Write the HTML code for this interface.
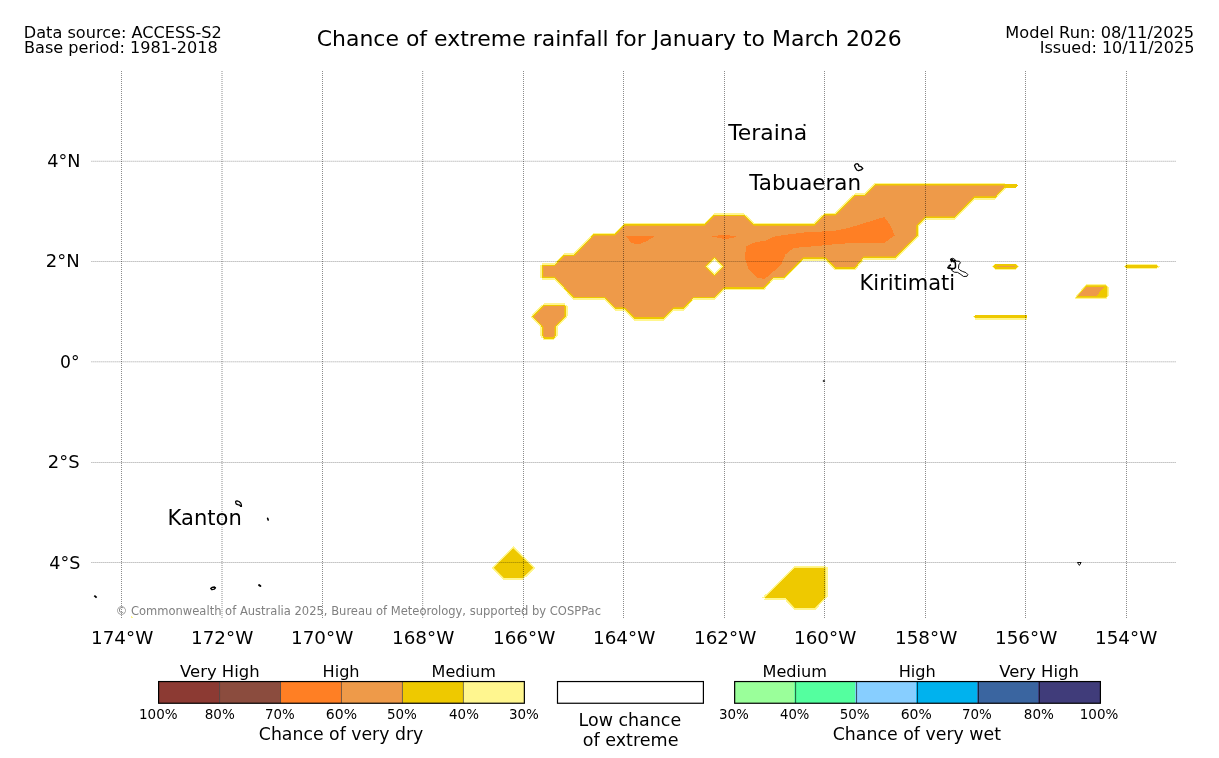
<!DOCTYPE html>
<html lang="en">
<head>
<meta charset="utf-8">
<title>Chance of extreme rainfall for January to March 2026</title>
<style>
html,body{margin:0;padding:0;background:#fff;}
body{width:1219px;height:758px;overflow:hidden;}
svg{display:block;}
text{font-family:"DejaVu Sans", "Liberation Sans", sans-serif;fill:#000;}
.gv{fill:none;stroke:#000;stroke-opacity:.45;stroke-width:1;stroke-dasharray:1 1;}
.gh{fill:none;stroke:#000;stroke-opacity:.09;stroke-width:1;stroke-dasharray:1 1;}
.isl{fill:none;stroke:#000;stroke-width:1;stroke-linejoin:round;}
</style>
</head>
<body>
<svg width="1219" height="758" viewBox="0 0 1219 758">
<rect x="0" y="0" width="1219" height="758" fill="#ffffff"/>

<text transform="translate(23.77,38.00) scale(0.9963,1)" font-size="16.2px">Data source: ACCESS-S2</text>
<text transform="translate(24.07,53.00) scale(0.9937,1)" font-size="16.2px">Base period: 1981-2018</text>
<text transform="translate(1005.36,38.00) scale(1.0004,1)" font-size="16.2px">Model Run: 08/11/2025</text>
<text transform="translate(1039.67,53.00) scale(0.9918,1)" font-size="16.2px">Issued: 10/11/2025</text>
<text transform="translate(316.72,46.00) scale(0.9990,1)" font-size="22px">Chance of extreme rainfall for January to March 2026</text>
<g id="contours" stroke-linejoin="miter" shape-rendering="crispEdges">
<path d="M544.2,265.0 L556.6,265.0 L566.4,254.9 L576.2,254.9 L595.9,234.5 L616.9,234.5 L626.7,224.6 L706.7,224.6 L716.5,214.8 L746.1,214.8 L755.9,224.6 L816.6,224.6 L826.4,214.5 L837.5,214.5 L857.1,194.8 L867.0,194.8 L877.3,184.5 L1007.6,184.5 L1007.3,187.0 L997.5,197.3 L976.5,197.3 L956.8,217.7 L927.3,217.7 L919.4,225.8 L919.4,236.1 L897.3,257.6 L865.8,257.6 L857.1,268.1 L837.5,268.1 L827.6,258.3 L805.5,258.3 L785.8,278.0 L775.6,278.0 L765.8,288.1 L726.4,288.1 L716.5,298.0 L695.6,298.0 L685.8,308.3 L675.9,308.3 L666.1,318.2 L636.5,318.2 L626.7,308.3 L616.9,308.3 L607.0,298.0 L576.2,298.0 L556.6,277.8 L544.2,277.8 Z M716.5,257.9 L725.1,266.5 L716.5,275.1 L707.9,266.5 Z" fill="#FFF68F" fill-rule="evenodd"/>
<path d="M540.0,265.0 L552.4,265.0 L562.2,254.9 L572.0,254.9 L591.7,234.5 L612.7,234.5 L622.5,224.6 L702.5,224.6 L712.3,214.8 L741.9,214.8 L751.7,224.6 L812.4,224.6 L822.2,214.5 L833.3,214.5 L852.9,194.8 L862.8,194.8 L873.1,184.5 L1003.4,184.5 L1003.1,187.0 L993.3,197.3 L972.3,197.3 L952.6,217.7 L923.1,217.7 L915.2,225.8 L915.2,236.1 L893.1,257.6 L861.6,257.6 L852.9,268.1 L833.3,268.1 L823.4,258.3 L801.3,258.3 L781.6,278.0 L771.4,278.0 L761.6,288.1 L722.2,288.1 L712.3,298.0 L691.4,298.0 L681.6,308.3 L671.7,308.3 L661.9,318.2 L632.3,318.2 L622.5,308.3 L612.7,308.3 L602.8,298.0 L572.0,298.0 L552.4,277.8 L540.0,277.8 Z M712.3,257.9 L720.9,266.5 L712.3,275.1 L703.7,266.5 Z" fill="#FFF68F" fill-rule="evenodd"/>
<path d="M542.1,267.3 L554.5,267.3 L564.3,257.2 L574.1,257.2 L593.8,236.8 L614.8,236.8 L624.6,226.9 L704.6,226.9 L714.4,217.1 L744.0,217.1 L753.8,226.9 L814.5,226.9 L824.3,216.8 L835.4,216.8 L855.0,197.1 L864.9,197.1 L875.2,186.8 L1005.5,186.8 L1005.2,189.3 L995.4,199.6 L974.4,199.6 L954.7,220.0 L925.2,220.0 L917.3,228.1 L917.3,238.4 L895.2,259.9 L863.7,259.9 L855.0,270.4 L835.4,270.4 L825.5,260.6 L803.4,260.6 L783.7,280.3 L773.5,280.3 L763.7,290.4 L724.3,290.4 L714.4,300.3 L693.5,300.3 L683.7,310.6 L673.8,310.6 L664.0,320.5 L634.4,320.5 L624.6,310.6 L614.8,310.6 L604.9,300.3 L574.1,300.3 L554.5,280.1 L542.1,280.1 Z M714.4,260.2 L723.0,268.8 L714.4,277.4 L705.8,268.8 Z" fill="#FFF68F" fill-rule="evenodd"/>
<path d="M542.1,263.3 L554.5,263.3 L564.3,253.2 L574.1,253.2 L593.8,232.8 L614.8,232.8 L624.6,222.9 L704.6,222.9 L714.4,213.1 L744.0,213.1 L753.8,222.9 L814.5,222.9 L824.3,212.8 L835.4,212.8 L855.0,193.1 L864.9,193.1 L875.2,182.8 L1005.5,182.8 L1005.2,185.3 L995.4,195.6 L974.4,195.6 L954.7,216.0 L925.2,216.0 L917.3,224.1 L917.3,234.4 L895.2,255.9 L863.7,255.9 L855.0,266.4 L835.4,266.4 L825.5,256.6 L803.4,256.6 L783.7,276.3 L773.5,276.3 L763.7,286.4 L724.3,286.4 L714.4,296.3 L693.5,296.3 L683.7,306.6 L673.8,306.6 L664.0,316.5 L634.4,316.5 L624.6,306.6 L614.8,306.6 L604.9,296.3 L574.1,296.3 L554.5,276.1 L542.1,276.1 Z M714.4,256.2 L723.0,264.8 L714.4,273.4 L705.8,264.8 Z" fill="#FFF68F" fill-rule="evenodd"/>
<path d="M542.5,265.0 L554.9,265.0 L564.6,254.9 L574.5,254.9 L594.1,234.5 L615.1,234.5 L625.0,224.6 L705.0,224.6 L714.8,214.8 L744.4,214.8 L754.1,224.6 L814.9,224.6 L824.6,214.5 L835.8,214.5 L855.4,194.8 L865.2,194.8 L875.6,184.5 L1005.9,184.5 L1005.6,187.0 L995.8,197.3 L974.8,197.3 L955.1,217.7 L925.6,217.7 L917.6,225.8 L917.6,236.1 L895.6,257.6 L864.1,257.6 L855.4,268.1 L835.8,268.1 L825.9,258.3 L803.8,258.3 L784.1,278.0 L773.9,278.0 L764.1,288.1 L724.6,288.1 L714.8,298.0 L693.9,298.0 L684.1,308.3 L674.1,308.3 L664.4,318.2 L634.8,318.2 L625.0,308.3 L615.1,308.3 L605.2,298.0 L574.5,298.0 L554.9,277.8 L542.5,277.8 Z M714.8,257.9 L723.4,266.5 L714.8,275.1 L706.1,266.5 Z" fill="#EEC900" fill-rule="evenodd"/>
<path d="M541.8,265.0 L554.1,265.0 L563.9,254.9 L573.8,254.9 L593.4,234.5 L614.4,234.5 L624.2,224.6 L704.2,224.6 L714.0,214.8 L743.6,214.8 L753.4,224.6 L814.1,224.6 L823.9,214.5 L835.0,214.5 L854.6,194.8 L864.5,194.8 L874.9,184.5 L1005.1,184.5 L1004.9,187.0 L995.0,197.3 L974.0,197.3 L954.4,217.7 L924.9,217.7 L916.9,225.8 L916.9,236.1 L894.9,257.6 L863.4,257.6 L854.6,268.1 L835.0,268.1 L825.1,258.3 L803.0,258.3 L783.4,278.0 L773.1,278.0 L763.4,288.1 L723.9,288.1 L714.0,298.0 L693.1,298.0 L683.4,308.3 L673.4,308.3 L663.6,318.2 L634.0,318.2 L624.2,308.3 L614.4,308.3 L604.5,298.0 L573.8,298.0 L554.1,277.8 L541.8,277.8 Z M714.0,257.9 L722.6,266.5 L714.0,275.1 L705.4,266.5 Z" fill="#EEC900" fill-rule="evenodd"/>
<path d="M542.1,265.4 L554.5,265.4 L564.3,255.2 L574.1,255.2 L593.8,234.8 L614.8,234.8 L624.6,224.9 L704.6,224.9 L714.4,215.2 L744.0,215.2 L753.8,224.9 L814.5,224.9 L824.3,214.8 L835.4,214.8 L855.0,195.2 L864.9,195.2 L875.2,184.8 L1005.5,184.8 L1005.2,187.3 L995.4,197.7 L974.4,197.7 L954.7,218.0 L925.2,218.0 L917.3,226.2 L917.3,236.4 L895.2,258.0 L863.7,258.0 L855.0,268.5 L835.4,268.5 L825.5,258.7 L803.4,258.7 L783.7,278.4 L773.5,278.4 L763.7,288.5 L724.3,288.5 L714.4,298.4 L693.5,298.4 L683.7,308.7 L673.8,308.7 L664.0,318.6 L634.4,318.6 L624.6,308.7 L614.8,308.7 L604.9,298.4 L574.1,298.4 L554.5,278.2 L542.1,278.2 Z M714.4,258.2 L723.0,266.9 L714.4,275.5 L705.8,266.9 Z" fill="#EEC900" fill-rule="evenodd"/>
<path d="M542.1,264.6 L554.5,264.6 L564.3,254.6 L574.1,254.6 L593.8,234.2 L614.8,234.2 L624.6,224.2 L704.6,224.2 L714.4,214.5 L744.0,214.5 L753.8,224.2 L814.5,224.2 L824.3,214.2 L835.4,214.2 L855.0,194.5 L864.9,194.5 L875.2,184.2 L1005.5,184.2 L1005.2,186.7 L995.4,197.0 L974.4,197.0 L954.7,217.3 L925.2,217.3 L917.3,225.5 L917.3,235.8 L895.2,257.2 L863.7,257.2 L855.0,267.8 L835.4,267.8 L825.5,257.9 L803.4,257.9 L783.7,277.6 L773.5,277.6 L763.7,287.8 L724.3,287.8 L714.4,297.6 L693.5,297.6 L683.7,307.9 L673.8,307.9 L664.0,317.8 L634.4,317.8 L624.6,307.9 L614.8,307.9 L604.9,297.6 L574.1,297.6 L554.5,277.4 L542.1,277.4 Z M714.4,257.5 L723.0,266.1 L714.4,274.8 L705.8,266.1 Z" fill="#EEC900" fill-rule="evenodd"/>
<clipPath id="c1" shape-rendering="crispEdges"><path d="M543.2,265.0 L555.6,265.0 L565.4,254.9 L575.2,254.9 L594.9,234.5 L615.9,234.5 L625.7,224.6 L705.7,224.6 L715.5,214.8 L745.1,214.8 L754.9,224.6 L815.6,224.6 L825.4,214.5 L836.5,214.5 L856.1,194.8 L866.0,194.8 L876.3,184.5 L1006.6,184.5 L1006.3,187.0 L996.5,197.3 L975.5,197.3 L955.8,217.7 L926.3,217.7 L918.4,225.8 L918.4,236.1 L896.3,257.6 L864.8,257.6 L856.1,268.1 L836.5,268.1 L826.6,258.3 L804.5,258.3 L784.8,278.0 L774.6,278.0 L764.8,288.1 L725.4,288.1 L715.5,298.0 L694.6,298.0 L684.8,308.3 L674.9,308.3 L665.1,318.2 L635.5,318.2 L625.7,308.3 L615.9,308.3 L606.0,298.0 L575.2,298.0 L555.6,277.8 L543.2,277.8 Z M715.5,257.9 L724.1,266.5 L715.5,275.1 L706.9,266.5 Z" clip-rule="evenodd" shape-rendering="crispEdges"/></clipPath>
<clipPath id="c2" shape-rendering="crispEdges"><path d="M541.0,265.0 L553.4,265.0 L563.2,254.9 L573.0,254.9 L592.7,234.5 L613.7,234.5 L623.5,224.6 L703.5,224.6 L713.3,214.8 L742.9,214.8 L752.7,224.6 L813.4,224.6 L823.2,214.5 L834.3,214.5 L853.9,194.8 L863.8,194.8 L874.1,184.5 L1004.4,184.5 L1004.1,187.0 L994.3,197.3 L973.3,197.3 L953.6,217.7 L924.1,217.7 L916.2,225.8 L916.2,236.1 L894.1,257.6 L862.6,257.6 L853.9,268.1 L834.3,268.1 L824.4,258.3 L802.3,258.3 L782.6,278.0 L772.4,278.0 L762.6,288.1 L723.2,288.1 L713.3,298.0 L692.4,298.0 L682.6,308.3 L672.7,308.3 L662.9,318.2 L633.3,318.2 L623.5,308.3 L613.7,308.3 L603.8,298.0 L573.0,298.0 L553.4,277.8 L541.0,277.8 Z M713.3,257.9 L721.9,266.5 L713.3,275.1 L704.7,266.5 Z" clip-rule="evenodd" shape-rendering="crispEdges"/></clipPath>
<clipPath id="c3" shape-rendering="crispEdges"><path d="M542.1,266.1 L554.5,266.1 L564.3,256.0 L574.1,256.0 L593.8,235.6 L614.8,235.6 L624.6,225.7 L704.6,225.7 L714.4,215.9 L744.0,215.9 L753.8,225.7 L814.5,225.7 L824.3,215.6 L835.4,215.6 L855.0,195.9 L864.9,195.9 L875.2,185.6 L1005.5,185.6 L1005.2,188.1 L995.4,198.4 L974.4,198.4 L954.7,218.8 L925.2,218.8 L917.3,226.9 L917.3,237.2 L895.2,258.7 L863.7,258.7 L855.0,269.2 L835.4,269.2 L825.5,259.4 L803.4,259.4 L783.7,279.1 L773.5,279.1 L763.7,289.2 L724.3,289.2 L714.4,299.1 L693.5,299.1 L683.7,309.4 L673.8,309.4 L664.0,319.3 L634.4,319.3 L624.6,309.4 L614.8,309.4 L604.9,299.1 L574.1,299.1 L554.5,278.9 L542.1,278.9 Z M714.4,259.0 L723.0,267.6 L714.4,276.2 L705.8,267.6 Z" clip-rule="evenodd" shape-rendering="crispEdges"/></clipPath>
<clipPath id="c4" shape-rendering="crispEdges"><path d="M542.1,263.9 L554.5,263.9 L564.3,253.8 L574.1,253.8 L593.8,233.4 L614.8,233.4 L624.6,223.5 L704.6,223.5 L714.4,213.7 L744.0,213.7 L753.8,223.5 L814.5,223.5 L824.3,213.4 L835.4,213.4 L855.0,193.7 L864.9,193.7 L875.2,183.4 L1005.5,183.4 L1005.2,185.9 L995.4,196.2 L974.4,196.2 L954.7,216.6 L925.2,216.6 L917.3,224.7 L917.3,235.0 L895.2,256.5 L863.7,256.5 L855.0,267.0 L835.4,267.0 L825.5,257.2 L803.4,257.2 L783.7,276.9 L773.5,276.9 L763.7,287.0 L724.3,287.0 L714.4,296.9 L693.5,296.9 L683.7,307.2 L673.8,307.2 L664.0,317.1 L634.4,317.1 L624.6,307.2 L614.8,307.2 L604.9,296.9 L574.1,296.9 L554.5,276.7 L542.1,276.7 Z M714.4,256.8 L723.0,265.4 L714.4,274.0 L705.8,265.4 Z" clip-rule="evenodd" shape-rendering="crispEdges"/></clipPath>
<g clip-path="url(#c1)"><g clip-path="url(#c2)"><g clip-path="url(#c3)"><g clip-path="url(#c4)"><rect x="540.1" y="182.5" width="467.4" height="137.7" fill="#EE9A49"/></g></g></g></g>
<path d="M1004.8,183.8 L1015.8,183.8 L1017.8,185.8 L1015.8,188.2 L1003,188.2 L1004.8,186.2 Z" fill="#EEC900"/>
<path d="M534.4,316.9 L546.0,304.9 L566.4,304.9 L567.6,306.6 L567.6,316.4 L557.8,326.8 L557.8,335.4 L555.8,338.1 L546.0,338.1 L544.3,335.4 L544.3,326.8 Z" fill="#FFF68F" fill-rule="evenodd"/>
<path d="M530.2,316.9 L541.8,304.9 L562.2,304.9 L563.4,306.6 L563.4,316.4 L553.6,326.8 L553.6,335.4 L551.6,338.1 L541.8,338.1 L540.1,335.4 L540.1,326.8 Z" fill="#FFF68F" fill-rule="evenodd"/>
<path d="M532.3,319.2 L543.9,307.2 L564.3,307.2 L565.5,308.9 L565.5,318.7 L555.7,329.1 L555.7,337.7 L553.7,340.4 L543.9,340.4 L542.2,337.7 L542.2,329.1 Z" fill="#FFF68F" fill-rule="evenodd"/>
<path d="M532.3,315.2 L543.9,303.2 L564.3,303.2 L565.5,304.9 L565.5,314.7 L555.7,325.1 L555.7,333.7 L553.7,336.4 L543.9,336.4 L542.2,333.7 L542.2,325.1 Z" fill="#FFF68F" fill-rule="evenodd"/>
<path d="M532.6,316.9 L544.2,304.9 L564.6,304.9 L565.9,306.6 L565.9,316.4 L556.1,326.8 L556.1,335.4 L554.1,338.1 L544.2,338.1 L542.6,335.4 L542.6,326.8 Z" fill="#EEC900" fill-rule="evenodd"/>
<path d="M531.9,316.9 L543.5,304.9 L563.9,304.9 L565.1,306.6 L565.1,316.4 L555.4,326.8 L555.4,335.4 L553.4,338.1 L543.5,338.1 L541.9,335.4 L541.9,326.8 Z" fill="#EEC900" fill-rule="evenodd"/>
<path d="M532.3,317.2 L543.9,305.2 L564.3,305.2 L565.5,307.0 L565.5,316.8 L555.7,327.2 L555.7,335.8 L553.7,338.5 L543.9,338.5 L542.2,335.8 L542.2,327.2 Z" fill="#EEC900" fill-rule="evenodd"/>
<path d="M532.3,316.5 L543.9,304.5 L564.3,304.5 L565.5,306.2 L565.5,316.0 L555.7,326.4 L555.7,335.0 L553.7,337.8 L543.9,337.8 L542.2,335.0 L542.2,326.4 Z" fill="#EEC900" fill-rule="evenodd"/>
<clipPath id="c5" shape-rendering="crispEdges"><path d="M533.4,316.9 L545.0,304.9 L565.4,304.9 L566.6,306.6 L566.6,316.4 L556.8,326.8 L556.8,335.4 L554.8,338.1 L545.0,338.1 L543.3,335.4 L543.3,326.8 Z" clip-rule="evenodd" shape-rendering="crispEdges"/></clipPath>
<clipPath id="c6" shape-rendering="crispEdges"><path d="M531.2,316.9 L542.8,304.9 L563.2,304.9 L564.4,306.6 L564.4,316.4 L554.6,326.8 L554.6,335.4 L552.6,338.1 L542.8,338.1 L541.1,335.4 L541.1,326.8 Z" clip-rule="evenodd" shape-rendering="crispEdges"/></clipPath>
<clipPath id="c7" shape-rendering="crispEdges"><path d="M532.3,318.0 L543.9,306.0 L564.3,306.0 L565.5,307.7 L565.5,317.5 L555.7,327.9 L555.7,336.5 L553.7,339.2 L543.9,339.2 L542.2,336.5 L542.2,327.9 Z" clip-rule="evenodd" shape-rendering="crispEdges"/></clipPath>
<clipPath id="c8" shape-rendering="crispEdges"><path d="M532.3,315.8 L543.9,303.8 L564.3,303.8 L565.5,305.5 L565.5,315.3 L555.7,325.7 L555.7,334.3 L553.7,337.0 L543.9,337.0 L542.2,334.3 L542.2,325.7 Z" clip-rule="evenodd" shape-rendering="crispEdges"/></clipPath>
<g clip-path="url(#c5)"><g clip-path="url(#c6)"><g clip-path="url(#c7)"><g clip-path="url(#c8)"><rect x="530.3" y="302.9" width="37.2" height="37.2" fill="#EE9A49"/></g></g></g></g>
<path d="M746.2,246.5 L752.9,242.8 L765.4,240.6 L774.3,236.6 L789.1,234.3 L806.8,232.2 L833.4,231.0 L848.1,228.1 L884.3,217.0 L890.2,225.1 L894.7,235.4 L885.1,242.5 L840.8,243.6 L818.6,245.8 L793.5,248.0 L785.4,254.6 L780.9,265.0 L764.7,279.0 L756.6,277.5 L748.5,269.4 L744.8,257.6 Z" fill="#FF7F24"/>
<path d="M625.8,236.0 L654.9,236.0 L647.0,241.0 L638.0,244.6 L631.0,242.5 Z" fill="#FF7F24"/>
<path d="M712.0,236.5 L724.0,234.5 L737.8,236.8 L726.0,239.2 Z" fill="#FF7F24"/>
<path d="M514.7,547.6 L535.5,567.8 L524.3,578.6 L505.1,578.6 L494.5,567.8 Z" fill="#FFF68F"/>
<path d="M511.7,547.6 L532.5,567.8 L521.3,578.6 L502.1,578.6 L491.5,567.8 Z" fill="#FFF68F"/>
<path d="M513.2,549.1 L534.0,569.3 L522.8,580.1 L503.6,580.1 L493.0,569.3 Z" fill="#FFF68F"/>
<path d="M513.2,546.1 L534.0,566.3 L522.8,577.1 L503.6,577.1 L493.0,566.3 Z" fill="#FFF68F"/>
<clipPath id="c9" shape-rendering="crispEdges"><path d="M513.7,547.6 L534.5,567.8 L523.3,578.6 L504.1,578.6 L493.5,567.8 Z" shape-rendering="crispEdges"/></clipPath>
<clipPath id="c10" shape-rendering="crispEdges"><path d="M512.7,547.6 L533.5,567.8 L522.3,578.6 L503.1,578.6 L492.5,567.8 Z" shape-rendering="crispEdges"/></clipPath>
<clipPath id="c11" shape-rendering="crispEdges"><path d="M513.2,548.1 L534.0,568.3 L522.8,579.1 L503.6,579.1 L493.0,568.3 Z" shape-rendering="crispEdges"/></clipPath>
<clipPath id="c12" shape-rendering="crispEdges"><path d="M513.2,547.1 L534.0,567.3 L522.8,578.1 L503.6,578.1 L493.0,567.3 Z" shape-rendering="crispEdges"/></clipPath>
<g clip-path="url(#c9)"><g clip-path="url(#c10)"><g clip-path="url(#c11)"><g clip-path="url(#c12)"><rect x="491.0" y="545.6" width="45.0" height="35.0" fill="#EEC900"/></g></g></g></g>
<path d="M765.5,598.1 L796.5,567.4 L827.6,567.4 L827.6,597.2 L816.7,608.4 L796.5,608.4 L786.9,598.1 Z" fill="#FFF68F"/>
<path d="M761.9,598.1 L792.9,567.4 L824.0,567.4 L824.0,597.2 L813.1,608.4 L792.9,608.4 L783.3,598.1 Z" fill="#FFF68F"/>
<path d="M763.7,599.9 L794.7,569.2 L825.8,569.2 L825.8,599.0 L814.9,610.2 L794.7,610.2 L785.1,599.9 Z" fill="#FFF68F"/>
<path d="M763.7,596.3 L794.7,565.6 L825.8,565.6 L825.8,595.4 L814.9,606.6 L794.7,606.6 L785.1,596.3 Z" fill="#FFF68F"/>
<clipPath id="c13" shape-rendering="crispEdges"><path d="M763.8,598.1 L794.8,567.4 L825.9,567.4 L825.9,597.2 L815.0,608.4 L794.8,608.4 L785.2,598.1 Z" shape-rendering="crispEdges"/></clipPath>
<clipPath id="c14" shape-rendering="crispEdges"><path d="M763.6,598.1 L794.6,567.4 L825.7,567.4 L825.7,597.2 L814.8,608.4 L794.6,608.4 L785.0,598.1 Z" shape-rendering="crispEdges"/></clipPath>
<clipPath id="c15" shape-rendering="crispEdges"><path d="M763.7,598.2 L794.7,567.5 L825.8,567.5 L825.8,597.3 L814.9,608.5 L794.7,608.5 L785.1,598.2 Z" shape-rendering="crispEdges"/></clipPath>
<clipPath id="c16" shape-rendering="crispEdges"><path d="M763.7,598.0 L794.7,567.3 L825.8,567.3 L825.8,597.1 L814.9,608.3 L794.7,608.3 L785.1,598.0 Z" shape-rendering="crispEdges"/></clipPath>
<g clip-path="url(#c13)"><g clip-path="url(#c14)"><g clip-path="url(#c15)"><g clip-path="url(#c16)"><rect x="761.7" y="565.4" width="66.1" height="45.0" fill="#EEC900"/></g></g></g></g>
<path d="M1075.8,298.1 L1086.8,285.0 L1107.0,285.0 L1108.6,287.0 L1108.6,296.2 L1107.0,298.1 Z" fill="#FFF68F"/>
<path d="M1074.2,298.1 L1085.2,285.0 L1105.4,285.0 L1107.0,287.0 L1107.0,296.2 L1105.4,298.1 Z" fill="#FFF68F"/>
<path d="M1075.0,298.9 L1086.0,285.8 L1106.2,285.8 L1107.8,287.8 L1107.8,297.0 L1106.2,298.9 Z" fill="#FFF68F"/>
<path d="M1075.0,297.3 L1086.0,284.2 L1106.2,284.2 L1107.8,286.2 L1107.8,295.4 L1106.2,297.3 Z" fill="#FFF68F"/>
<clipPath id="c17" shape-rendering="crispEdges"><path d="M1075.3,298.1 L1086.3,285.0 L1106.5,285.0 L1108.1,287.0 L1108.1,296.2 L1106.5,298.1 Z" shape-rendering="crispEdges"/></clipPath>
<clipPath id="c18" shape-rendering="crispEdges"><path d="M1074.7,298.1 L1085.7,285.0 L1105.9,285.0 L1107.5,287.0 L1107.5,296.2 L1105.9,298.1 Z" shape-rendering="crispEdges"/></clipPath>
<clipPath id="c19" shape-rendering="crispEdges"><path d="M1075.0,298.4 L1086.0,285.3 L1106.2,285.3 L1107.8,287.3 L1107.8,296.5 L1106.2,298.4 Z" shape-rendering="crispEdges"/></clipPath>
<clipPath id="c20" shape-rendering="crispEdges"><path d="M1075.0,297.8 L1086.0,284.7 L1106.2,284.7 L1107.8,286.7 L1107.8,295.9 L1106.2,297.8 Z" shape-rendering="crispEdges"/></clipPath>
<g clip-path="url(#c17)"><g clip-path="url(#c18)"><g clip-path="url(#c19)"><g clip-path="url(#c20)"><rect x="1073.0" y="283.0" width="36.8" height="17.1" fill="#EEC900"/></g></g></g></g>
<path d="M1078.2,295.8 L1086.7,287.0 L1104.8,287.0 L1096.3,295.8 Z" fill="#EE9A49"/>
<path d="M993.4,266.6 L995.6,264.4 L1015.6,264.4 L1017.8,266.6 L1015.6,268.9 L995.6,268.9 Z" fill="#EEC900" stroke="#FFF68F" stroke-width="1.8" paint-order="stroke"/>
<path d="M996.5,265.9 L1014.5,265.9 L1014.5,267.4 L996.5,267.4 Z" fill="#EE9A49"/>
<path d="M1125.2,266.6 L1127,264.9 L1156.4,264.9 L1158.4,266.6 L1156.4,268.4 L1127,268.4 Z" fill="#EEC900" stroke="#FFF68F" stroke-width="1.6" paint-order="stroke"/>
<path d="M973.4,316.6 L975.6,314.6 L1027.2,314.6 L1027.2,319.9 L975.6,319.9 Z" fill="#FFF68F"/>
<path d="M974.4,316.6 L975.9,315.0 L1026.9,315.0 L1026.9,318.3 L975.9,318.3 Z" fill="#EEC900"/>
<path d="M130.2,618 L131.6,616.2 L133,618 Z" fill="#FFF68F"/>
</g>
<g class="gv">
<line x1="121.50" y1="71" x2="121.50" y2="618"/>
<line x1="222.00" y1="71" x2="222.00" y2="618"/>
<line x1="322.50" y1="71" x2="322.50" y2="618"/>
<line x1="422.70" y1="71" x2="422.70" y2="618"/>
<line x1="523.50" y1="71" x2="523.50" y2="618"/>
<line x1="623.50" y1="71" x2="623.50" y2="618"/>
<line x1="724.50" y1="71" x2="724.50" y2="618"/>
<line x1="824.50" y1="71" x2="824.50" y2="618"/>
<line x1="925.50" y1="71" x2="925.50" y2="618"/>
<line x1="1025.50" y1="71" x2="1025.50" y2="618"/>
<line x1="1126.50" y1="71" x2="1126.50" y2="618"/>
</g>
<g class="gh">
<line x1="91" y1="161.25" x2="1176" y2="161.25"/>
<line x1="91" y1="161.25" x2="1176" y2="161.25" style="stroke-dasharray:none;stroke-opacity:.15"/>
<line x1="91" y1="261.50" x2="1176" y2="261.50"/>
<line x1="91" y1="261.50" x2="1176" y2="261.50" style="stroke-dasharray:none;stroke-opacity:.15"/>
<line x1="91" y1="361.80" x2="1176" y2="361.80"/>
<line x1="91" y1="361.80" x2="1176" y2="361.80" style="stroke-dasharray:none;stroke-opacity:.15"/>
<line x1="91" y1="462.50" x2="1176" y2="462.50"/>
<line x1="91" y1="462.50" x2="1176" y2="462.50" style="stroke-dasharray:none;stroke-opacity:.15"/>
<line x1="91" y1="562.50" x2="1176" y2="562.50"/>
<line x1="91" y1="562.50" x2="1176" y2="562.50" style="stroke-dasharray:none;stroke-opacity:.15"/>
</g>
<g class="isl">
<path d="M854.5,165.6 L855.5,164.1 L857.3,163.7 L858.6,164.6 L858.8,166.1 L861.1,166.6 L862.8,168.5 L861.1,169.9 L858.5,170.7 L856.8,170 L855.5,167.9 Z" stroke-width="1.3"/>
<path d="M950.5,258.8 L952.5,258.3 L954.4,259 L956,261.1 L959.5,261.3 L960.4,262.9 L958.8,264.8 L958.5,268.5 L959.9,270.1 L962.7,271.5 L965.9,272.6 L967.8,274.5 L966.9,276.3 L963.6,276.5 L960.9,274.5 L957.6,272.4 L954.4,272.2 L952.1,270.8 L951.2,268.9 L947.5,268 L948.4,266.2 L950.7,264.5" stroke-width="0.95"/>
<path d="M950.6,259 L951.4,261.6 L952.4,259.4 L953.4,261.6 L954.6,260.6 L955.4,263.5 L955.5,267 L954.6,268.4 L951,268.3 L947.8,267.8 M950.8,264.6 L948.6,266.6 M952,268.6 L952.6,270" stroke-width="1.5"/>
<path d="M235.7,501.4 L237,500.8 L239,501.5 L240.7,502.9 L241.3,504.6 L241.5,506.4 L240.6,506.3 L239.7,505.1 L237.9,504.7 L236.4,504.1 L235.7,502.7 Z" stroke-width="1.25"/>
<path d="M267.6,518.2 L268.2,520" stroke-width="1.6" stroke-linecap="round"/>
<path d="M803.6,124.6 L805.5,125.5" stroke-width="1.7"/>
<path d="M823,380.4 L824.7,380.4 L824.7,381.6 L823,381.6 Z" fill="#000" stroke-width="0.4"/>
<path d="M1077.4,562.5 L1081.1,562.5 L1079.4,565.4 Z" stroke-width="0.95"/>
<path d="M94.3,595.6 L96.6,597.6" stroke-width="1.9"/>
<path d="M210.7,588.6 L212,587.4 L214.4,587 L215.5,587.8 L214.2,589.2 L212,589.7 Z" stroke-width="1.35"/>
<path d="M259.1,585.1 L260.4,586" stroke-width="2" stroke-linecap="round"/>
</g>
<text transform="translate(728.15,140.00) scale(1.0287,1)" font-size="21.3px">Teraina</text>
<text transform="translate(749.27,190.00) scale(1.0073,1)" font-size="21.3px">Tabuaeran</text>
<text transform="translate(859.59,290.00) scale(0.9869,1)" font-size="21.3px">Kiritimati</text>
<text transform="translate(167.56,525.00) scale(0.9892,1)" font-size="21.3px">Kanton</text>
<text transform="translate(115.76,615.00) scale(0.9457,1)" font-size="12.2px" style="fill:#808080">© Commonwealth of Australia 2025, Bureau of Meteorology, supported by COSPPac</text>
<text transform="translate(47.29,167.00) scale(1.0031,1)" font-size="17.6px">4°N</text>
<text transform="translate(45.80,267.00) scale(1.0243,1)" font-size="17.6px">2°N</text>
<text transform="translate(60.12,368.00) scale(0.9760,1)" font-size="17.6px">0°</text>
<text transform="translate(47.84,468.00) scale(1.0193,1)" font-size="17.6px">2°S</text>
<text transform="translate(49.34,569.00) scale(0.9973,1)" font-size="17.6px">4°S</text>
<text transform="translate(91.00,644.00) scale(1.0427,1)" font-size="17.6px">174°W</text>
<text transform="translate(191.00,644.00) scale(1.0427,1)" font-size="17.6px">172°W</text>
<text transform="translate(291.00,644.00) scale(1.0427,1)" font-size="17.6px">170°W</text>
<text transform="translate(392.00,644.00) scale(1.0427,1)" font-size="17.6px">168°W</text>
<text transform="translate(493.00,644.00) scale(1.0427,1)" font-size="17.6px">166°W</text>
<text transform="translate(593.00,644.00) scale(1.0427,1)" font-size="17.6px">164°W</text>
<text transform="translate(694.00,644.00) scale(1.0427,1)" font-size="17.6px">162°W</text>
<text transform="translate(794.00,644.00) scale(1.0427,1)" font-size="17.6px">160°W</text>
<text transform="translate(895.00,644.00) scale(1.0427,1)" font-size="17.6px">158°W</text>
<text transform="translate(995.00,644.00) scale(1.0427,1)" font-size="17.6px">156°W</text>
<text transform="translate(1095.00,644.00) scale(1.0427,1)" font-size="17.6px">154°W</text>
<rect x="158.60" y="681.55" width="60.96" height="21.70" fill="#8C3A33"/>
<rect x="219.91" y="681.55" width="60.61" height="21.70" fill="#8B4C3E"/>
<rect x="280.87" y="681.55" width="60.61" height="21.70" fill="#FF7F24"/>
<rect x="341.83" y="681.55" width="60.61" height="21.70" fill="#EE9A49"/>
<rect x="402.79" y="681.55" width="60.61" height="21.70" fill="#EEC900"/>
<rect x="463.75" y="681.55" width="60.61" height="21.70" fill="#FFF68F"/>
<line x1="219.56" y1="681.55" x2="219.56" y2="703.25" stroke="#000" stroke-opacity="0.75" stroke-width="0.7"/>
<line x1="280.52" y1="681.55" x2="280.52" y2="703.25" stroke="#000" stroke-opacity="0.75" stroke-width="0.7"/>
<line x1="341.48" y1="681.55" x2="341.48" y2="703.25" stroke="#000" stroke-opacity="0.75" stroke-width="0.7"/>
<line x1="402.44" y1="681.55" x2="402.44" y2="703.25" stroke="#000" stroke-opacity="0.75" stroke-width="0.7"/>
<line x1="463.40" y1="681.55" x2="463.40" y2="703.25" stroke="#000" stroke-opacity="0.75" stroke-width="0.7"/>
<rect x="158.60" y="681.55" width="365.76" height="21.70" fill="none" stroke="#000" stroke-width="1.2"/>
<text transform="translate(138.97,719.00) scale(0.9935,1)" font-size="13.6px">100%</text>
<text transform="translate(204.75,719.00) scale(0.9953,1)" font-size="13.6px">80%</text>
<text transform="translate(265.03,719.00) scale(0.9844,1)" font-size="13.6px">70%</text>
<text transform="translate(325.77,719.00) scale(1.0337,1)" font-size="13.6px">60%</text>
<text transform="translate(386.91,719.00) scale(0.9937,1)" font-size="13.6px">50%</text>
<text transform="translate(449.08,719.00) scale(0.9860,1)" font-size="13.6px">40%</text>
<text transform="translate(508.91,719.00) scale(0.9904,1)" font-size="13.6px">30%</text>
<text transform="translate(180.02,677.00) scale(1.0160,1)" font-size="16.2px">Very High</text>
<text transform="translate(322.52,677.00) scale(0.9966,1)" font-size="16.2px">High</text>
<text transform="translate(431.62,677.00) scale(0.9906,1)" font-size="16.2px">Medium</text>
<text transform="translate(258.84,740.00) scale(0.9831,1)" font-size="17.6px">Chance of very dry</text>
<rect x="734.65" y="681.55" width="60.96" height="21.70" fill="#9AFF9A"/>
<rect x="794.21" y="681.55" width="62.36" height="21.70" fill="#54FF9F"/>
<rect x="855.17" y="681.55" width="62.36" height="21.70" fill="#87CEFF"/>
<rect x="916.13" y="681.55" width="62.36" height="21.70" fill="#00B2EE"/>
<rect x="977.09" y="681.55" width="62.36" height="21.70" fill="#3A65A0"/>
<rect x="1038.05" y="681.55" width="62.36" height="21.70" fill="#403C7A"/>
<line x1="795.61" y1="681.55" x2="795.61" y2="703.25" stroke="#000" stroke-opacity="0.8" stroke-width="0.8"/>
<line x1="856.57" y1="681.55" x2="856.57" y2="703.25" stroke="#000" stroke-opacity="0.8" stroke-width="0.8"/>
<line x1="917.53" y1="681.55" x2="917.53" y2="703.25" stroke="#000" stroke-opacity="0.8" stroke-width="0.8"/>
<line x1="978.49" y1="681.55" x2="978.49" y2="703.25" stroke="#000" stroke-opacity="0.8" stroke-width="0.8"/>
<line x1="1039.45" y1="681.55" x2="1039.45" y2="703.25" stroke="#000" stroke-opacity="0.8" stroke-width="0.8"/>
<rect x="734.65" y="681.55" width="365.76" height="21.70" fill="none" stroke="#000" stroke-width="1.2"/>
<text transform="translate(718.96,719.00) scale(0.9904,1)" font-size="13.6px">30%</text>
<text transform="translate(780.05,719.00) scale(0.9718,1)" font-size="13.6px">40%</text>
<text transform="translate(839.63,719.00) scale(0.9934,1)" font-size="13.6px">50%</text>
<text transform="translate(900.64,719.00) scale(1.0302,1)" font-size="13.6px">60%</text>
<text transform="translate(961.95,719.00) scale(0.9872,1)" font-size="13.6px">70%</text>
<text transform="translate(1023.80,719.00) scale(0.9963,1)" font-size="13.6px">80%</text>
<text transform="translate(1079.74,719.00) scale(0.9941,1)" font-size="13.6px">100%</text>
<text transform="translate(762.52,677.00) scale(0.9958,1)" font-size="16.2px">Medium</text>
<text transform="translate(898.66,677.00) scale(0.9981,1)" font-size="16.2px">High</text>
<text transform="translate(999.22,677.00) scale(1.0160,1)" font-size="16.2px">Very High</text>
<text transform="translate(832.75,740.00) scale(0.9863,1)" font-size="17.6px">Chance of very wet</text>
<rect x="557.5" y="681.55" width="145.9" height="21.7" fill="#fff" stroke="#000" stroke-width="1.2"/>
<text transform="translate(578.58,726.00) scale(0.9915,1)" font-size="17.6px">Low chance</text>
<text transform="translate(582.77,746.00) scale(0.9976,1)" font-size="17.6px">of extreme</text>
</svg>
</body>
</html>
